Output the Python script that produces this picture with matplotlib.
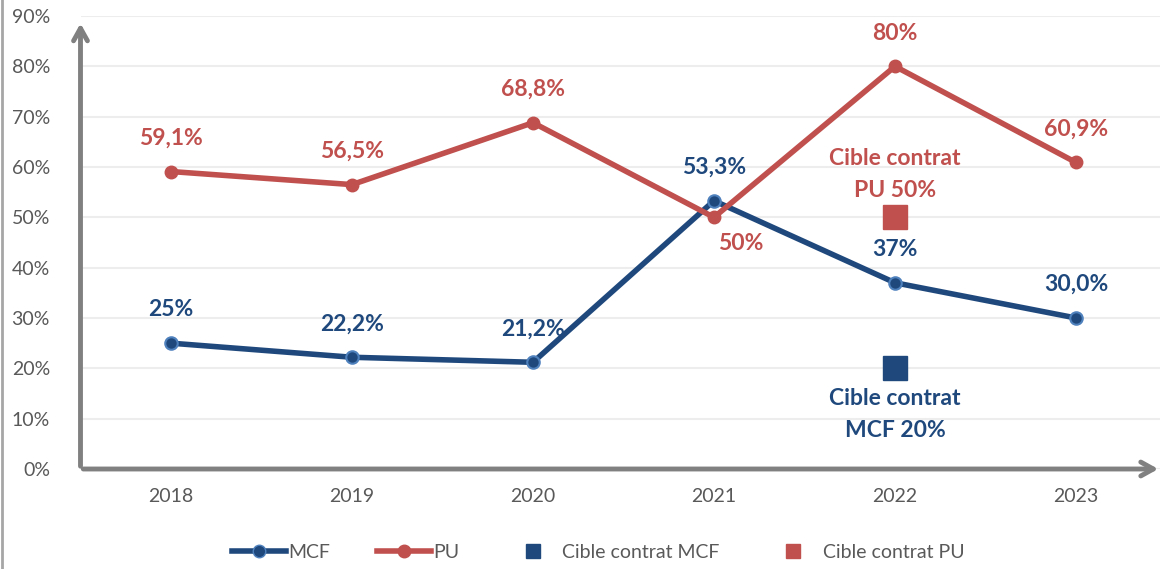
import matplotlib.pyplot as plt
from matplotlib.lines import Line2D

years = ['2018', '2019', '2020', '2021', '2022', '2023']
mcf = [25.0, 22.2, 21.2, 53.3, 37.0, 30.0]
pu = [59.1, 56.5, 68.8, 50.0, 80.0, 60.9]
mcf_labels = ['25%', '22,2%', '21,2%', '53,3%', '37%', '30,0%']
pu_labels = ['59,1%', '56,5%', '68,8%', '50%', '80%', '60,9%']
pu_label_below = [False, False, False, True, False, False]
target_year = 4
target_mcf = 20
target_pu = 50

blue = '#1F497D'
blue_edge = '#4F81BD'
red = '#C0504D'
grey = '#808080'

plt.rcParams['font.family'] = ['Lato', 'DejaVu Sans']

fig = plt.figure(figsize=(11.6, 5.69), dpi=100)
ax = fig.add_axes([80.5 / 1160, 100 / 569, 1086 / 1160, 453 / 569])
x = list(range(len(years)))

ax.plot(x, mcf, color=blue, lw=4, marker='o', ms=9, mfc=blue, mec=blue_edge, mew=1.5, zorder=3, label='MCF')
ax.plot(x, pu, color=red, lw=4, marker='o', ms=9, mfc=red, mec=red, zorder=3, label='PU')
ax.plot([target_year], [target_mcf], ls='none', marker='s', ms=17, color=blue, zorder=3, label='Cible contrat MCF')
ax.plot([target_year], [target_pu], ls='none', marker='s', ms=17, color=red, zorder=3, label='Cible contrat PU')

lab = dict(ha='center', va='center', fontsize=16.5, fontweight='bold', textcoords='offset points')
for i, v in enumerate(mcf):
    ax.annotate(mcf_labels[i], (i, v), xytext=(0, 24), color=blue, **lab)
for i, v in enumerate(pu):
    off = (19, -19) if pu_label_below[i] else (0, 24)
    ax.annotate(pu_labels[i], (i, v), xytext=off, color=red, **lab)

ax.annotate('Cible contrat\nPU %d%%' % target_pu, (target_year, target_pu), xytext=(0, 31),
            color=red, linespacing=1.65, **lab)
ax.annotate('Cible contrat\nMCF %d%%' % target_mcf, (target_year, target_mcf), xytext=(0, -33),
            color=blue, linespacing=1.65, **lab)

ax.set_xlim(-0.5, 5.5)
ax.set_ylim(0, 90)
ax.set_yticks(range(0, 91, 10))
ax.set_yticklabels(['%d%%' % t for t in range(0, 91, 10)])
ax.set_xticks(x)
ax.set_xticklabels(years)
ax.tick_params(length=0, labelsize=14, colors='#595959', pad=14)
ax.tick_params(axis='y', pad=22)
ax.grid(axis='y', color='#EDEDED', lw=1.5)
ax.set_axisbelow(True)
for s in ax.spines.values():
    s.set_visible(False)

# axis arrows
arrow = dict(arrowstyle='->,head_length=0.9,head_width=0.5', color=grey, lw=3.5)
ax.annotate('', xy=(0, 0.99), xytext=(0, 0), xycoords='axes fraction', arrowprops=arrow, annotation_clip=False)
ax.annotate('', xy=(0.995, 0), xytext=(0, 0), xycoords='axes fraction', arrowprops=arrow, annotation_clip=False)

# left border
fig.add_artist(Line2D([2 / 1160, 2 / 1160], [0, 1], color='#A6A6A6', lw=2))

handles = [
    Line2D([], [], color=blue, lw=4, marker='o', ms=9, mfc=blue, mec=blue_edge),
    Line2D([], [], color=red, lw=4, marker='o', ms=9, mfc=red, mec=red),
    Line2D([], [], ls='none', marker='s', ms=10, color=blue),
    Line2D([], [], ls='none', marker='s', ms=10, color=red),
]
fig.legend(handles, ['MCF', 'PU', 'Cible contrat MCF', 'Cible contrat PU'], loc='center',
           bbox_to_anchor=(598 / 1160, 17 / 569), ncol=4, frameon=False, fontsize=14,
           labelcolor='#595959', handlelength=2.8, handletextpad=0.1, columnspacing=2.4)

fig.savefig('out.png', dpi=100)
